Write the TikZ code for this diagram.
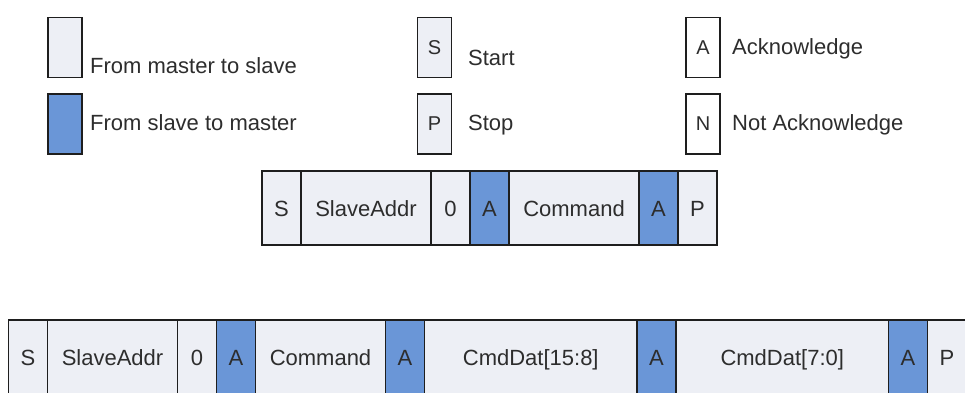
\documentclass[tikz,border=0pt]{standalone}
\usepackage{fontspec}
\setmainfont{Liberation Sans}
\usetikzlibrary{positioning}
\definecolor{mtos}{RGB}{237,239,245}
\definecolor{stom}{RGB}{106,150,215}
\definecolor{framec}{RGB}{30,30,30}
\definecolor{textc}{RGB}{45,45,45}

\begin{document}
\begin{tikzpicture}[x=1pt, y=-1pt, text=textc, font=\fontsize{22}{26}\selectfont,
  cell/.style={draw=framec, line width=1.4pt, fill=mtos, minimum height=74pt, inner sep=0pt, outer sep=0pt, text height=16pt, text depth=0pt},
  bit/.style={cell, minimum width=39pt},
  field/.style={cell, minimum width=130pt},
  data/.style={cell, minimum width=212.5pt},
  ack/.style={bit, fill=stom},
  key/.style={draw=framec, line width=1.4pt, minimum width=34pt, minimum height=60pt, inner sep=0pt, font=\fontsize{20}{22}\selectfont},
  keytext/.style={anchor=base west, inner sep=0pt}]
  \useasboundingbox[fill=white] (0,0) rectangle (965,392);

  % legend
  \node[key, fill=mtos] (kms) at (65,47.5) {};
  \node[key, fill=stom] (ksm) [below=15pt of kms] {};
  \node[keytext] (tms) at (90,73) {From master to slave};
  \node[keytext] (tsm) at (90,130) {From slave to master};

  \node[key, fill=mtos] (kstart) at (434.5,47.5) {S};
  \node[key, fill=mtos] (kstop) [below=15pt of kstart] {P};
  \node[keytext] (tstart) at (468,65) {Start};
  \node[keytext] (tstop) at (468,130) {Stop};

  \node[key, fill=white] (kack) at (703,47.5) {A};
  \node[key, fill=white] (knack) [below=15pt of kack] {N};
  \node[keytext] (tack) at (732,54) {Acknowledge};
  \node[keytext] (tnack) at (732,130) {Not Acknowledge};

  % write command
  \node[bit] (s1) at (281.5,208) {S};
  \node[field] (addr1) [right=0pt of s1] {SlaveAddr};
  \node[bit] (wr1) [right=0pt of addr1] {0};
  \node[ack] (aa1) [right=0pt of wr1] {A};
  \node[field] (cmd1) [right=0pt of aa1] {Command};
  \node[ack] (ac1) [right=0pt of cmd1] {A};
  \node[bit] (p1) [right=0pt of ac1] {P};

  % write command with data
  \node[bit] (s2) at (28,357) {S};
  \node[field] (addr2) [right=0pt of s2] {SlaveAddr};
  \node[bit] (wr2) [right=0pt of addr2] {0};
  \node[ack] (aa2) [right=0pt of wr2] {A};
  \node[field] (cmd2) [right=0pt of aa2] {Command};
  \node[ack] (ac2) [right=0pt of cmd2] {A};
  \node[data] (hi2) [right=0pt of ac2] {CmdDat[15:8]};
  \node[ack] (ah2) [right=0pt of hi2] {A};
  \node[data] (lo2) [right=0pt of ah2] {CmdDat[7:0]};
  \node[ack] (al2) [right=0pt of lo2] {A};
  \node[bit] (p2) [right=0pt of al2] {P};
\end{tikzpicture}
\end{document}
